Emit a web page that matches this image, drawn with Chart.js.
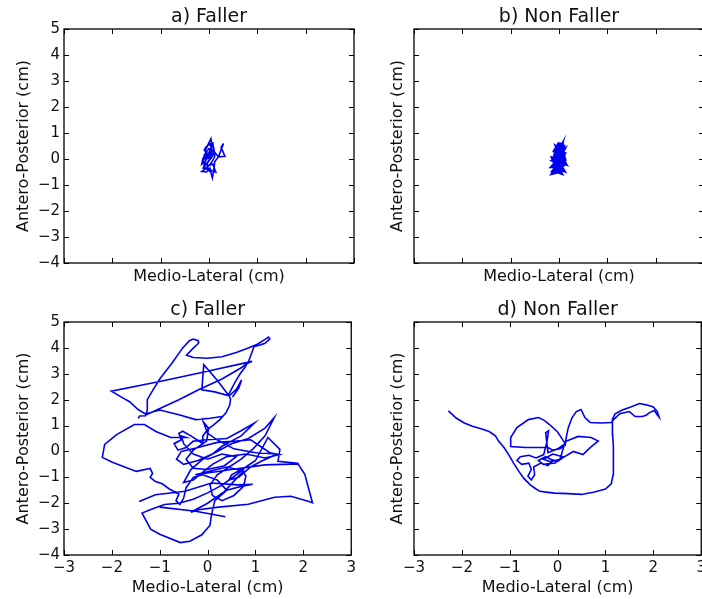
<!DOCTYPE html>
<html lang="en">
<head>
  <meta charset="UTF-8">
  <title>Sway paths</title>
  <script src="https://cdn.jsdelivr.net/npm/chart.js"></script>
  <style>
    html, body {
      margin: 0;
      padding: 0;
      background: #ffffff;
      width: 702px;
      height: 599px;
      overflow: hidden;
    }
    canvas { position: absolute; }
    #chartA { left: 0; top: 0; }
    #chartB { left: 350px; top: 0; }
    #chartC { left: 0; top: 295px; }
    #chartD { left: 350px; top: 295px; }
  </style>
</head>
<body>
  <canvas id="chartA" width="360" height="295"></canvas>
  <canvas id="chartB" width="360" height="295"></canvas>
  <canvas id="chartC" width="360" height="304"></canvas>
  <canvas id="chartD" width="360" height="304"></canvas>

  <script>
    // axis ticks
    const xTicks = [-3, -2, -1, 0, 1, 2, 3];
    const yTicks = [-4, -3, -2, -1, 0, 1, 2, 3, 4, 5];

    // centre of pressure paths, [medio-lateral, antero-posterior] in cm (null = pen up)
    const fallerEyesOpen = [
      [0.0, 0.0], [-0.08, 0.3], [-0.02, 0.55], [0.04, 0.78], [0.06, 0.5], [0.0, 0.25], [-0.12, 0.05],
      [-0.15, -0.2], [-0.08, -0.1], [0.02, 0.2], [0.1, 0.4], [0.12, 0.1], [0.05, -0.15], [-0.05, -0.35],
      [-0.15, -0.48], [-0.05, -0.5], [0.02, -0.35], [0.05, -0.6], [0.07, -0.73], [0.1, -0.4], [0.12, -0.1],
      [0.2, 0.1], [0.3, 0.6], [0.25, 0.45], [0.33, 0.1], [0.2, 0.08], [0.1, 0.3], [0.05, 0.05], [-0.1, 0.15],
      [0.0, 0.4], [0.08, 0.15], [-0.05, -0.2], [0.0, -0.45], [-0.1, -0.3], [0.04, 0.05], [-0.1, 0.35],
      [-0.05, 0.5], [0.08, 0.62], [0.1, 0.2], [-0.04, 0.1], [-0.13, -0.05], [-0.02, -0.25], [0.08, -0.2],
      [0.14, -0.5], [0.0, -0.4], [-0.12, -0.35], [-0.06, 0.0], [0.06, 0.3], [0.02, 0.62]
    ];

    const nonFallerEyesOpen = [
      [0.0, 0.6], [0.05, 0.55], [0.1, 0.5], [0.05, 0.3], [-0.05, 0.45], [0.0, 0.2], [-0.12, 0.15], [0.08, 0.25],
      [0.12, 0.0], [-0.14, 0.05], [-0.1, -0.15], [0.1, -0.05], [0.14, -0.2], [-0.05, -0.1], [-0.15, -0.3],
      [0.05, -0.3], [0.1, -0.45], [-0.05, -0.35], [-0.13, -0.55], [-0.02, -0.5], [0.05, -0.55], [0.0, -0.35],
      [-0.08, -0.2], [0.08, 0.1], [-0.1, 0.3], [-0.02, 0.55], [0.02, 0.35], [0.1, 0.15], [-0.12, -0.05],
      [0.06, -0.15], [-0.05, 0.0], [0.03, 0.45], [-0.08, 0.1], [0.1, 0.35], [-0.1, -0.4], [0.08, -0.25],
      [-0.03, 0.05], [0.11, 0.22], [-0.06, 0.38], [0.04, 0.5], [-0.1, -0.05], [0.0, -0.2], [-0.12, -0.45],
      [0.02, -0.45], [0.09, -0.1], [-0.04, 0.15]
    ];

    const fallerEyesClosed = [
      [-1.45, 1.28], [-1.42, 1.37], [-1.3, 1.38], [-1.26, 1.6], [-1.26, 2.0], [-1.15, 2.35], [-1.0, 2.8],
      [-0.75, 3.4], [-0.52, 4.0], [-0.38, 4.28], [-0.3, 4.34], [-0.2, 4.28], [-0.19, 4.18], [-0.32, 3.95],
      [-0.44, 3.72], [-0.3, 3.63], [0.0, 3.6], [0.3, 3.66], [0.6, 3.82], [0.85, 4.0], [1.05, 4.15], [1.2, 4.33],
      [1.27, 4.42], [1.3, 4.35], [1.2, 4.18], [1.08, 4.1], [0.97, 4.05], [0.92, 3.8], [0.86, 3.5], [0.78, 3.25],
      [0.68, 3.0], [0.58, 2.7], [0.5, 2.42], [0.44, 2.2], [0.48, 2.02], [0.46, 1.78], [0.38, 1.48], [0.25, 1.22],
      [0.12, 1.02], [0.0, 0.85], [-0.1, 0.6], [-0.1, 0.3],
      [-0.35, 0.6], [-0.52, 0.78], [-0.6, 0.7], [-0.55, 0.45], [-0.7, 0.3], [-0.62, 0.05], [-0.45, 0.15],
      [-0.3, 0.4], [0.0, 0.45], [0.4, 0.5], [0.7, 0.8], [0.98, 1.1], [0.7, 0.6], [0.3, 0.2], [0.1, -0.1],
      [-0.2, -0.35], [-0.5, -0.5], [-0.65, -0.3], [-0.55, 0.0], [-0.2, 0.15], [0.2, 0.35], [0.6, 0.4],
      [0.9, 0.45], [1.1, 0.2], [1.3, -0.05], [1.5, -0.12], [1.2, -0.25], [0.8, -0.1], [0.4, -0.2], [0.1, -0.5],
      [-0.1, -0.8], [-0.3, -1.1], [-0.5, -1.2], [-0.35, -0.7], [-0.1, -0.3], [0.2, 0.0], [0.5, 0.3],
      [0.85, 0.5], [1.2, 0.9], [1.39, 1.3], [1.2, 0.6], [0.95, 0.1], [0.7, -0.3], [0.45, -0.6], [0.2, -0.9],
      [0.05, -1.3], [0.1, -1.7], [0.3, -1.9], [0.55, -1.7], [0.75, -1.35], [0.8, -0.95], [0.7, -0.7],
      [0.5, -0.9], [0.45, -1.1], [0.65, -1.0], [0.9, -0.6], [1.1, -0.4], [1.45, -0.1], [1.0, -0.05],
      [0.55, 0.1], [0.2, 0.45], [0.0, 0.7], [-0.09, 1.15], [0.02, 0.9], [-0.02, 0.4], [-0.3, 0.05],
      [-0.45, -0.3], [-0.3, -0.65], [0.0, -0.7], [0.35, -0.55], [0.6, -0.2], [0.3, -0.1], [0.0, -0.3],
      [-0.3, -0.1], [-0.5, 0.3], [-0.55, 0.6], [-0.45, 0.54],
      [-0.77, 0.54], [-1.08, 0.77], [-1.32, 1.04], [-1.53, 1.04], [-1.9, 0.65], [-2.15, 0.27], [-2.2, -0.23],
      [-1.99, -0.42], [-1.49, -0.77], [-1.2, -0.66], [-1.15, -0.85], [-1.2, -1.0], [-1.1, -1.15],
      [-0.95, -1.25], [-0.8, -1.45], [-0.6, -1.65], [-0.66, -1.9], [-0.58, -2.05], [-0.5, -1.8],
      [-0.45, -1.4], [-0.3, -1.0], [-0.1, -0.9], [0.2, -1.1], [0.4, -1.5],
      [0.15, -1.9], [0.08, -2.45], [0.05, -2.85], [-0.12, -3.22], [-0.37, -3.47], [-0.57, -3.52],
      [-1.0, -3.2], [-1.19, -3.0], [-1.37, -2.38], [-1.2, -2.25], [-0.9, -2.05], [-0.6, -2.0], [-0.3, -1.85],
      [0.0, -1.6], [0.3, -1.3], [0.6, -0.9], [0.8, -0.6], [1.0, -0.35], [1.26, 0.54], [1.51, 0.08],
      [1.47, -0.38], [1.88, -0.46], [2.03, -0.88], [2.19, -1.98], [2.1, -1.92], [1.74, -1.73], [1.4, -1.77],
      [0.85, -2.04], [0.23, -2.15], [-0.19, -2.25], [-0.35, -2.35], [0.0, -2.0], [0.35, -1.55], [0.6, -1.05],
      [0.75, -0.75], [0.4, -0.6], [-0.26, -0.9], [0.5, -0.7], [1.2, -0.52], [1.9, -0.48],
      null,
      [-1.28, 1.42], [-0.6, 2.0], [-0.19, 2.38], [0.3, 2.8], [0.72, 3.25], [0.8, 3.38], [0.93, 3.48],
      [-0.1, 3.06], [-1.0, 2.7], [-2.01, 2.33], [-1.8, 2.1], [-1.63, 1.92], [-1.45, 1.62], [-1.3, 1.45],
      [-1.0, 1.6], [-0.6, 1.42], [-0.25, 1.23], [0.05, 1.28], [0.3, 1.35],
      null,
      [0.43, 2.19], [0.2, 2.75], [-0.08, 3.35], [-0.1, 2.9], [-0.12, 2.38], [0.15, 2.3], [0.45, 2.15],
      [0.6, 2.4], [0.71, 2.76], [0.65, 2.45], [0.52, 2.1],
      null,
      [-1.43, -1.93], [-1.09, -1.67], [-0.47, -1.54], [0.08, -1.22], [0.63, -1.29], [0.94, -1.27],
      [0.7, -1.35], [0.4, -1.5],
      null,
      [-1.0, -2.15], [-0.25, -2.31], [0.37, -2.52]
    ];

    const nonFallerEyesClosed = [
      [-2.28, 1.57], [-2.12, 1.29], [-1.95, 1.1], [-1.78, 0.97], [-1.6, 0.88], [-1.43, 0.77], [-1.3, 0.6],
      [-1.23, 0.39], [-1.12, 0.15], [-1.02, -0.13], [-0.92, -0.45], [-0.81, -0.77], [-0.7, -1.05],
      [-0.57, -1.29], [-0.45, -1.45], [-0.37, -1.54], [-0.2, -1.58], [-0.06, -1.61], [0.22, -1.63],
      [0.5, -1.66], [0.77, -1.57], [1.0, -1.45], [1.12, -1.25], [1.16, -0.9], [1.17, -0.39], [1.16, 0.2],
      [1.15, 0.64], [1.14, 1.0], [1.15, 1.25], [1.2, 1.45], [1.35, 1.6], [1.5, 1.7], [1.71, 1.85],
      [1.85, 1.8], [2.0, 1.72], [2.08, 1.55], [2.12, 1.33], [2.08, 1.42], [2.02, 1.58], [1.92, 1.5],
      [1.85, 1.4], [1.77, 1.35], [1.62, 1.35], [1.5, 1.54], [1.3, 1.46], [1.18, 1.25], [1.12, 1.12],
      [0.9, 1.1], [0.68, 1.12], [0.57, 1.31], [0.49, 1.62], [0.39, 1.54], [0.3, 1.3], [0.22, 0.9],
      [0.18, 0.54], [0.16, 0.25], [0.05, 0.1], [-0.1, 0.05], [-0.2, 0.15], [-0.45, 0.15], [-0.67, 0.15],
      [-0.98, 0.19], [-0.98, 0.54], [-0.85, 0.92], [-0.61, 1.23], [-0.4, 1.31], [-0.28, 1.2], [-0.17, 1.04],
      [0.0, 0.75], [0.06, 0.58], [0.16, 0.3], [0.0, 0.1], [-0.2, -0.05], [-0.25, 0.73], [-0.19, 0.8],
      [-0.22, 0.4], [-0.29, -0.12], [-0.45, -0.25], [-0.6, -0.15], [-0.78, -0.2], [-0.85, -0.35],
      [-0.75, -0.5], [-0.6, -0.45], [-0.55, -0.7], [-0.62, -0.95], [-0.55, -1.1], [-0.48, -0.9],
      [-0.5, -0.6], [-0.35, -0.45], [-0.2, -0.55], [-0.1, -0.35], [-0.25, -0.2], [-0.4, -0.35],
      [-0.3, -0.5], [-0.05, -0.45], [0.1, -0.2], [-0.1, -0.1], [-0.3, -0.3], [-0.15, -0.4], [0.05, -0.3],
      [0.16, 0.38], [0.43, 0.58], [0.7, 0.54], [0.85, 0.4], [0.78, 0.3], [0.68, 0.15], [0.53, -0.12],
      [0.33, 0.0], [0.12, -0.23], [0.0, -0.38], [-0.15, -0.3]
    ];

    const textColor = '#111111';
    const lineColor = '#0000f0';

    Chart.defaults.font.family = "'DejaVu Sans', sans-serif";
    Chart.defaults.color = textColor;

    function tickText(v) {
      return v < 0 ? '\u2212' + Math.abs(v) : String(v);
    }

    // box round the plot and matplotlib style inward ticks
    const framePlugin = {
      id: 'frame',
      afterDatasetsDraw(chart) {
        const { ctx, chartArea: a, scales } = chart;
        ctx.save();
        ctx.strokeStyle = '#000000';
        ctx.lineWidth = 1;
        ctx.beginPath();
        xTicks.forEach(v => {
          const px = Math.round(scales.x.getPixelForValue(v)) + 0.5;
          ctx.moveTo(px, a.bottom); ctx.lineTo(px, a.bottom - 5);
          ctx.moveTo(px, a.top); ctx.lineTo(px, a.top + 5);
        });
        yTicks.forEach(v => {
          const py = Math.round(scales.y.getPixelForValue(v)) + 0.5;
          ctx.moveTo(a.left, py); ctx.lineTo(a.left + 5, py);
          ctx.moveTo(a.right, py); ctx.lineTo(a.right - 5, py);
        });
        ctx.stroke();
        ctx.lineWidth = 1.3;
        ctx.strokeRect(a.left, a.top, a.right - a.left, a.bottom - a.top);
        ctx.restore();
      }
    };

    function makePanel(id, title, path, opt) {
      const points = path.map(p => p ? { x: p[0], y: p[1] } : { x: null, y: null });
      new Chart(document.getElementById(id), {
        type: 'scatter',
        data: {
          datasets: [{
            data: points,
            showLine: true,
            spanGaps: false,
            borderColor: lineColor,
            borderWidth: opt.lineWidth,
            pointRadius: 0,
            pointHoverRadius: 0,
            tension: 0
          }]
        },
        options: {
          responsive: false,
          animation: false,
          layout: { padding: { top: opt.top, left: 0, right: 6, bottom: 0 } },
          plugins: {
            legend: { display: false },
            tooltip: { enabled: false },
            title: {
              display: true,
              text: title,
              fullSize: false,
              color: textColor,
              font: { size: 19, weight: 'normal' },
              padding: { top: 0, bottom: opt.titleGap }
            }
          },
          scales: {
            x: {
              type: 'linear',
              min: -3,
              max: 3,
              grid: { display: false, drawTicks: false },
              border: { display: false },
              afterBuildTicks: s => { s.ticks = xTicks.map(v => ({ value: v })); },
              afterFit: s => { s.height = opt.xHeight; },
              ticks: { display: opt.xLabels, padding: 4, autoSkip: false, maxRotation: 0, font: { size: 15 }, color: textColor, callback: v => tickText(v) },
              title: { display: true, text: 'Medio-Lateral (cm)', color: textColor, font: { size: 16 }, padding: { top: 0, bottom: opt.xTitleGap } }
            },
            y: {
              type: 'linear',
              min: -4,
              max: 5,
              grid: { display: false, drawTicks: false },
              border: { display: false },
              afterBuildTicks: s => { s.ticks = yTicks.map(v => ({ value: v })); },
              afterFit: s => { s.width = 64; },
              ticks: { display: opt.yLabels, padding: 4, autoSkip: false, font: { size: 15 }, color: textColor, callback: v => tickText(v) },
              title: { display: true, text: 'Antero-Posterior (cm)', color: textColor, font: { size: 16 }, padding: { top: opt.yTitleGap, bottom: 0 } }
            }
          }
        },
        plugins: [framePlugin]
      });
    }

    const topRow = { top: 6, titleGap: 0.2, xHeight: 32, xTitleGap: 8.4, xLabels: false };
    const bottomRow = { top: 3.6, titleGap: 0.6, xHeight: 44, xTitleGap: 1.4, xLabels: true };

    makePanel('chartA', 'a) Faller', fallerEyesOpen, Object.assign({}, topRow, { yLabels: true, yTitleGap: 14.4, lineWidth: 1.6 }));
    makePanel('chartB', 'b) Non Faller', nonFallerEyesOpen, Object.assign({}, topRow, { yLabels: false, yTitleGap: 38.4, lineWidth: 3 }));
    makePanel('chartC', 'c) Faller', fallerEyesClosed, Object.assign({}, bottomRow, { yLabels: true, yTitleGap: 14.4, lineWidth: 1.6 }));
    makePanel('chartD', 'd) Non Faller', nonFallerEyesClosed, Object.assign({}, bottomRow, { yLabels: false, yTitleGap: 38.4, lineWidth: 1.6 }));
  </script>
</body>
</html>
